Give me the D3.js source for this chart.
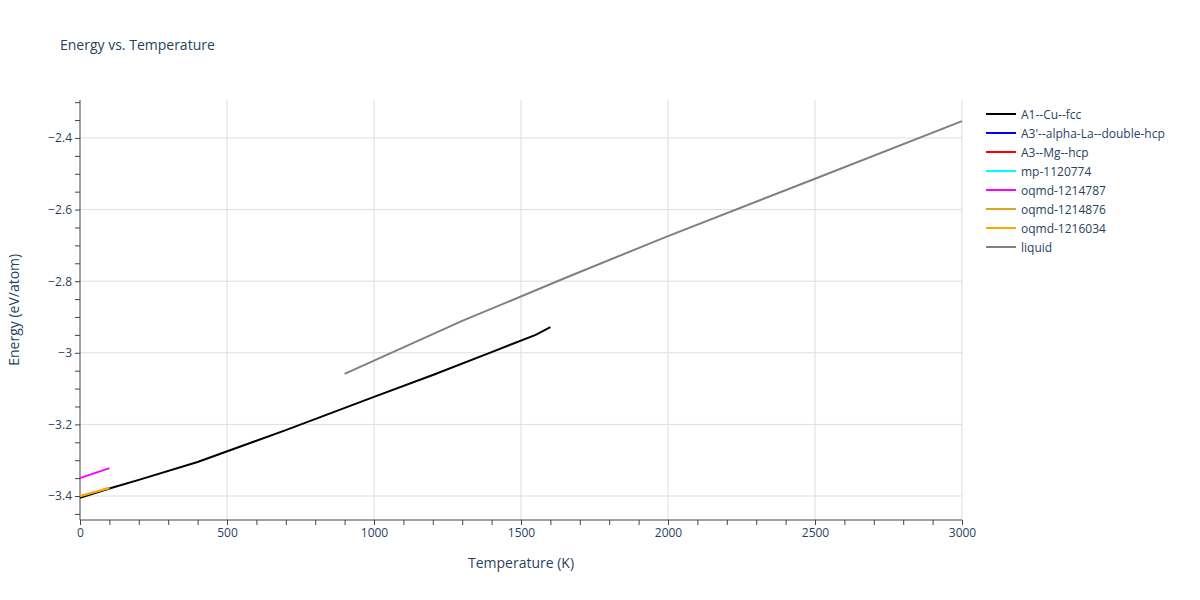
<!DOCTYPE html>
<html><head><meta charset="utf-8">
<script src="https://cdn.jsdelivr.net/npm/d3@7"></script>
<style>body{margin:0;background:#fff;font-family:"Open Sans",sans-serif}</style>
</head><body><div id="chart"></div>
<script>
// series names and colours, legend order
const seriesNames = ["A1--Cu--fcc", "A3'--alpha-La--double-hcp", "A3--Mg--hcp", "mp-1120774", "oqmd-1214787", "oqmd-1214876", "oqmd-1216034", "liquid"];
const seriesColors = ["#000000", "#0000ff", "#ff0000", "#00ffff", "#ff00ff", "#daa520", "#ffa500", "#808080"];

// [temperature K, energy eV/atom]
const fccPoints = [[0, -3.405], [100, -3.379], [200, -3.355], [400, -3.305], [700, -3.216], [1000, -3.123], [1200, -3.062], [1400, -2.998], [1550, -2.950], [1600, -2.928]];
const magentaPoints = [[0, -3.350], [100, -3.322]];
const goldPoints = [[0, -3.401], [100, -3.377]];
const orangePoints = [[0, -3.400], [100, -3.378]];
const liquidPoints = [[900, -3.059], [1300, -2.911], [1650, -2.791], [2000, -2.674], [2500, -2.514], [3000, -2.353]];

const xTicks = [0, 500, 1000, 1500, 2000, 2500, 3000];
const yTicks = [-3.4, -3.2, -3.0, -2.8, -2.6, -2.4];

const width = 1200, height = 600;
const margin = {left: 80, right: 238, top: 100, bottom: 80};

const svg = d3.select('#chart').append('svg').attr('width', width).attr('height', height);

const x = d3.scaleLinear().domain([0, 3000]).range([margin.left, width - margin.right]);
const y = d3.scaleLinear().domain([-3.467, -2.294]).range([height - margin.bottom, margin.top]);

// grid
svg.append('g').selectAll('line').data(xTicks.slice(1)).join('line')
    .attr('x1', d => x(d)).attr('x2', d => x(d)).attr('y1', margin.top).attr('y2', height - margin.bottom)
    .attr('stroke', '#ddd');
svg.append('g').selectAll('line').data(yTicks).join('line')
    .attr('x1', margin.left).attr('x2', width - margin.right).attr('y1', d => y(d)).attr('y2', d => y(d))
    .attr('stroke', '#ddd');

const fmtY = d => d === -3 ? '−3' : d3.format('.1f')(d).replace('-', '−');

const xAxis = svg.append('g').attr('transform', `translate(0,${height - margin.bottom})`)
    .call(d3.axisBottom(x).tickValues(d3.range(0, 3001, 100)).tickSize(5)
        .tickFormat(d => xTicks.includes(d) ? d : ''));
const yAxis = svg.append('g').attr('transform', `translate(${margin.left},0)`)
    .call(d3.axisLeft(y).tickValues(d3.range(-3.45, -2.29, 0.05)).tickSize(5)
        .tickFormat(d => yTicks.some(t => Math.abs(t - d) < 1e-6) ? fmtY(Math.round(d * 10) / 10) : ''));
[xAxis, yAxis].forEach(a => {
    a.selectAll('path,line').attr('stroke', '#444');
    a.selectAll('text').attr('fill', '#2a3f5f').attr('font-size', 12).attr('font-family', '"Open Sans",sans-serif');
});
xAxis.select('.domain').attr('d', `M${margin.left},0H${width - margin.right}`);
yAxis.select('.domain').attr('d', `M0,${height - margin.bottom}V${margin.top}`);

const line = d3.line().x(d => x(d[0])).y(d => y(d[1]));
const drawn = [[fccPoints, 0], [goldPoints, 5], [orangePoints, 6], [magentaPoints, 4], [liquidPoints, 7]];
drawn.forEach(([pts, i]) => {
    svg.append('path').datum(pts).attr('d', line).attr('fill', 'none')
        .attr('stroke', seriesColors[i]).attr('stroke-width', 2);
});

// titles
svg.append('text').attr('x', 60).attr('y', 50).text('Energy vs. Temperature')
    .attr('font-size', 14).attr('fill', '#2a3f5f');
svg.append('text').attr('x', x(1500)).attr('y', 568).attr('text-anchor', 'middle')
    .text('Temperature (K)').attr('font-size', 14).attr('fill', '#2a3f5f');
svg.append('text').attr('transform', `translate(19,${y(-2.88)}) rotate(-90)`).attr('text-anchor', 'middle')
    .text('Energy (eV/atom)').attr('font-size', 14).attr('fill', '#2a3f5f');

// legend
const lg = svg.append('g').attr('transform', 'translate(986,114)');
seriesNames.forEach((n, i) => {
    const g = lg.append('g').attr('transform', `translate(0,${i * 19})`);
    g.append('line').attr('x1', 0).attr('x2', 30).attr('stroke', seriesColors[i]).attr('stroke-width', 2);
    g.append('text').attr('x', 35).attr('y', 4.5).text(n).attr('font-size', 12).attr('fill', '#2a3f5f');
});
</script></body></html>
